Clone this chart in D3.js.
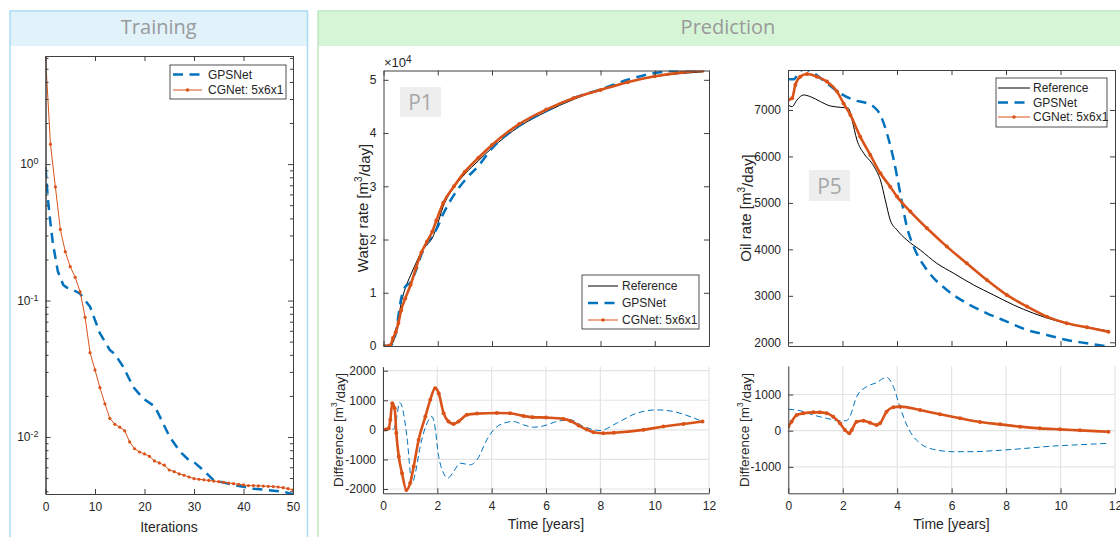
<!DOCTYPE html>
<html>
<head>
<meta charset="utf-8">
<script src="https://cdn.jsdelivr.net/npm/d3@7"></script>
<style>
body { margin: 0; background: #fff; }
svg text { font-family: 'Liberation Sans', Arial, sans-serif; fill: #262626; }
.axis path, .axis line { stroke: #404040; stroke-width: 1; }
.axis text { font-size: 12px; }
.grid { stroke: #e4e4e4; stroke-width: 1.2; }
.panel-title { font-family: 'Open Sans', sans-serif !important; font-size: 20px; fill: #9a9a9a !important; }
.tag { font-family: 'Open Sans', sans-serif !important; font-size: 21px; fill: #a8a8a8 !important; }
.xlab { font-size: 14px; }
.legend text { font-size: 12px; }
</style>
</head>
<body>
<div id="chart"></div>
<script>
// ---- training loss ----
const cgIter = d3.range(0, 51);
const cgLoss = [6.2, 1.40, 0.68, 0.332, 0.228, 0.177, 0.148, 0.116, 0.0753, 0.0415,
  0.031, 0.023, 0.0175, 0.0137, 0.0124, 0.0118, 0.0111, 0.0092, 0.0082, 0.00776,
  0.00751, 0.00722, 0.00667, 0.00645, 0.00621, 0.00573, 0.00557, 0.00536, 0.00524, 0.00509,
  0.00495, 0.0049, 0.00485, 0.0048, 0.00475, 0.0047, 0.00465, 0.0046, 0.00455, 0.0045,
  0.00445, 0.0044, 0.0044, 0.00438, 0.00437, 0.00435, 0.00433, 0.0043, 0.00425, 0.00418, 0.00409];
const gpsIter = [0, 0.5, 1, 1.5, 2.5, 3.6, 4.2, 5.5, 6.9, 9, 11, 13, 14, 15.7, 17.7, 19.7, 22.1, 23.1,
  25.1, 27.2, 28.9, 29.9, 31.9, 33.9, 38, 42, 48, 50];
const gpsLoss = [0.95, 0.55, 0.37, 0.262, 0.163, 0.13, 0.125, 0.12, 0.113, 0.09, 0.0575, 0.0434, 0.0405,
  0.0327, 0.0233, 0.0192, 0.0167, 0.0141, 0.0100, 0.0078, 0.0068, 0.0066, 0.0057, 0.00484,
  0.00445, 0.00418, 0.00398, 0.0038];

// ---- P1 water rate [m3/day] ----
const p1Time = [0, 0.25, 0.35, 0.45, 0.55, 0.65, 0.8, 1.0, 1.2, 1.4, 1.6, 1.8, 1.95, 2.2, 2.6, 3.0,
  3.5, 4.0, 5.0, 6.0, 7.0, 8.0, 9.0, 10.0, 11.0, 11.76];
const p1Ref = [0, 100, 700, 2200, 5000, 8000, 10800, 13300, 15600, 17700, 19000, 20300, 22200, 26200,
  29800, 32300, 34800, 37200, 41200, 44000, 46300, 48200, 49600, 50600, 51200, 51500];
const p1Gps = [0, 100, 720, 2400, 5700, 8900, 11100, 12000, 14200, 17250, 19200, 20750, 21900, 24800,
  28400, 31150, 33850, 37120, 41360, 44150, 46600, 48180, 50000, 51270, 51750, 51750];
const p1Cg = [0, 150, 1500, 2600, 4300, 6700, 8900, 11500, 14700, 17600, 19600, 21500, 23600, 26850,
  30000, 32750, 35360, 37760, 41680, 44410, 46530, 48090, 49550, 50660, 51400, 51700];

// ---- P1 difference ----
const p1CgDiffT = [0, 0.1, 0.21, 0.27, 0.34, 0.43, 0.49, 0.58, 0.7, 0.86, 1.0, 1.13, 1.31, 1.56, 1.74,
  1.92, 2.05, 2.23, 2.41, 2.6, 2.78, 3.09, 3.46, 4.19, 4.68, 5.17, 5.5, 6.0, 6.64, 6.9, 7.2, 7.5, 7.75,
  8.11, 8.5, 9.59, 10.32, 11.06, 11.76];
const p1CgDiff = [0, 10, 56, 340, 900, 730, -110, -900, -1465, -2030, -1800, -1240, -340, 450, 1015,
  1410, 1240, 563, 280, 200, 280, 507, 550, 570, 560, 470, 430, 415, 370, 300, 150, 10, -79,
  -113, -100, 0, 113, 200, 282];
const p1GpsDiffT = [0, 0.39, 0.5, 0.61, 0.7, 0.88, 1.07, 1.19, 1.37, 1.62, 1.8, 1.89, 2.05, 2.23, 2.38,
  2.6, 2.84, 3.21, 3.46, 3.82, 4.07, 4.44, 4.8, 5.17, 5.54, 5.91, 6.4, 6.89, 7.38, 7.99, 8.6, 9.34,
  10.07, 10.69, 11.3, 11.76];
const p1GpsDiff = [0, 23, 400, 930, 790, -225, -1800, -1465, -563, 225, 450, 225, -900, -1465, -1634,
  -1408, -1127, -1183, -1014, -338, 0, 225, 282, 169, 90, 135, 282, 338, 113, -23, 225, 563,
  676, 620, 450, 282];

// ---- P5 oil rate [m3/day] ----
const p5RefT = [0, 0.15, 0.33, 0.57, 0.82, 1.19, 1.55, 1.92, 2.22, 2.35, 2.53, 2.78, 3.08, 3.26, 3.39,
  3.57, 3.75, 4.0, 4.36, 4.85, 5.46, 6.08, 6.81, 7.54, 8.28, 9.01, 9.74, 10.48, 11.21, 11.76];
const p5Ref = [7108, 7072, 7215, 7323, 7287, 7180, 7086, 7057, 7036, 6785, 6354, 6067, 5852, 5673, 5494,
  5063, 4633, 4417, 4202, 3987, 3700, 3485, 3234, 3019, 2803, 2624, 2481, 2373, 2301, 2245];
const p5GpsT = [0, 0.21, 0.39, 0.57, 0.94, 1.43, 1.92, 2.41, 2.9, 3.14, 3.39, 3.63, 3.88, 4.12, 4.36,
  4.61, 5.1, 5.83, 6.56, 7.3, 8.03, 8.77, 9.5, 10.23, 10.97, 11.76];
const p5Gps = [7660, 7660, 7790, 7880, 7790, 7574, 7359, 7215, 7143, 7072, 6892, 6498, 5924, 5207, 4489,
  4059, 3557, 3126, 2839, 2624, 2445, 2265, 2158, 2050, 1978, 1905];
const p5CgT = [0, 0.15, 0.27, 0.45, 0.7, 1.06, 1.43, 1.8, 2.04, 2.29, 2.65, 3.02, 3.39, 3.75, 4.0, 4.49,
  5.1, 5.83, 6.56, 7.3, 8.03, 8.77, 9.5, 10.23, 10.97, 11.76];
const p5Cg = [7215, 7251, 7538, 7717, 7775, 7717, 7610, 7395, 7140, 6892, 6426, 6032, 5637, 5350, 5135,
  4812, 4453, 4059, 3700, 3341, 3019, 2768, 2552, 2409, 2323, 2225];

// ---- P5 difference ----
const p5CgDiffT = [0, 0.12, 0.31, 0.55, 0.92, 1.16, 1.41, 1.65, 1.9, 2.08, 2.24, 2.33, 2.51, 2.76, 3.0,
  3.24, 3.37, 3.61, 3.86, 4.1, 4.84, 5.57, 6.31, 7.04, 7.78, 8.51, 9.24, 9.98, 10.71, 11.76];
const p5CgDiff = [110, 250, 433, 479, 507, 507, 479, 387, 203, 18, -74, 18, 249, 276, 221, 157, 203,
  525, 645, 664, 571, 452, 341, 240, 175, 111, 65, 37, 9, -28];
const p5GpsDiffT = [0, 0.43, 0.92, 1.41, 1.9, 2.14, 2.26, 2.51, 2.88, 3.24, 3.61, 3.86, 4.1, 4.35, 4.84,
  5.45, 6.06, 6.8, 7.53, 8.26, 9.0, 9.73, 10.47, 11.2, 11.76];
const p5GpsDiff = [590, 553, 433, 341, 276, 276, 387, 940, 1217, 1327, 1475, 1217, 664, 157, -350, -535,
  -581, -581, -553, -516, -470, -424, -396, -369, -350];

const timeTicks = [0, 2, 4, 6, 8, 10, 12];
const iterTicks = [0, 10, 20, 30, 40, 50];

const BLUE = "#0072bd", ORANGE = "#d95319";

const svg = d3.select("#chart").append("svg")
    .attr("width", 1120)
    .attr("height", 537);

// panel frames with header bands
function panel(x, w, fill, stroke, title) {
    svg.append("rect").attr("x", x).attr("y", 11).attr("width", w).attr("height", 35).attr("fill", fill);
    svg.append("rect").attr("x", x).attr("y", 11).attr("width", w).attr("height", 540)
        .attr("fill", "none").attr("stroke", stroke).attr("stroke-width", 1.5);
    svg.append("text").attr("class", "panel-title")
        .attr("x", x + w / 2).attr("y", 34).attr("text-anchor", "middle").text(title);
}
panel(10, 297.5, "#e1f2fb", "#a9dbf3", "Training");
panel(318, 820, "#d6f5d7", "#bfe9c1", "Prediction");

let clipN = 0;
function clip(x, y) {
    const id = "clip" + (clipN++);
    svg.append("clipPath").attr("id", id).append("rect")
        .attr("x", x.range()[0]).attr("y", y.range()[1])
        .attr("width", x.range()[1] - x.range()[0])
        .attr("height", y.range()[0] - y.range()[1]);
    return id;
}

function grid(x, y, xt, yt) {
    const g = svg.append("g");
    g.selectAll(".gx").data(xt).join("line").attr("class", "grid")
        .attr("x1", d => x(d)).attr("x2", d => x(d))
        .attr("y1", y.range()[1]).attr("y2", y.range()[0]);
    g.selectAll(".gy").data(yt).join("line").attr("class", "grid")
        .attr("y1", d => y(d)).attr("y2", d => y(d))
        .attr("x1", x.range()[0]).attr("x2", x.range()[1]);
}

function series(x, y, T, V, cid, st) {
    const line = d3.line()
        .x((d, i) => x(T[i]))
        .y(d => y(d))
        .curve(st.linear ? d3.curveLinear : d3.curveMonotoneX);
    const g = svg.append("g").attr("clip-path", `url(#${cid})`);
    g.append("path").datum(V).attr("d", line)
        .attr("fill", "none").attr("stroke", st.color).attr("stroke-width", st.width)
        .attr("stroke-dasharray", st.dash || null).attr("stroke-linejoin", "round");
    if (st.marker) {
        g.selectAll("circle").data(V).join("circle")
            .attr("cx", (d, i) => x(T[i])).attr("cy", d => y(d))
            .attr("r", st.marker).attr("fill", st.color);
    }
}

const plain = d => String(d);

function axes(x, y, o) {
    const g = svg.append("g").attr("class", "axis");
    const L = x.range()[0], R = x.range()[1], B = y.range()[0], T = y.range()[1];
    g.append("g").attr("transform", `translate(0,${B})`)
        .call(d3.axisBottom(x).tickValues(o.xTicks).tickSizeInner(-5).tickSizeOuter(0)
            .tickPadding(8).tickFormat(o.xLabels ? plain : ""));
    const left = g.append("g").attr("transform", `translate(${L},0)`)
        .call(d3.axisLeft(y).tickValues(o.yTicks).tickSizeInner(-5).tickSizeOuter(0)
            .tickPadding(7).tickFormat(o.yFormat || plain));
    if (o.yMinor) {
        g.append("g").attr("transform", `translate(${L},0)`)
            .call(d3.axisLeft(y).tickValues(o.yMinor).tickSizeInner(-3).tickSizeOuter(0).tickFormat(""));
    }
    if (o.box) {
        g.append("g").attr("transform", `translate(0,${T})`)
            .call(d3.axisTop(x).tickValues(o.xTicks).tickSizeInner(-5).tickSizeOuter(0).tickFormat(""));
        g.append("g").attr("transform", `translate(${R},0)`)
            .call(d3.axisRight(y).tickValues(o.yTicks).tickSizeInner(-5).tickSizeOuter(0).tickFormat(""));
        if (o.yMinor) {
            g.append("g").attr("transform", `translate(${R},0)`)
                .call(d3.axisRight(y).tickValues(o.yMinor).tickSizeInner(-3).tickSizeOuter(0).tickFormat(""));
        }
    }
    g.selectAll(".domain").attr("stroke", "#404040");
    return left;
}

function ylabel(xc, yc, pre, size) {
    const t = svg.append("text")
        .attr("transform", `translate(${xc},${yc}) rotate(-90)`)
        .attr("font-size", size + "px")
        .attr("text-anchor", "middle").attr("dominant-baseline", "central");
    t.append("tspan").text(pre + " [m");
    t.append("tspan").attr("dy", "-0.4em").attr("font-size", (size - 5) + "px").text("3");
    t.append("tspan").attr("dy", "0.4em").text("/day]");
}

function xlabel(xc, y, txt) {
    svg.append("text").attr("class", "xlab").attr("x", xc).attr("y", y)
        .attr("text-anchor", "middle").text(txt);
}

function legend(x0, y0, w, h, rows, sx0, sx1, tx, entries) {
    const g = svg.append("g").attr("class", "legend");
    g.append("rect").attr("x", x0).attr("y", y0).attr("width", w).attr("height", h)
        .attr("fill", "#fff").attr("stroke", "#262626").attr("stroke-width", 0.8);
    entries.forEach((e, i) => {
        const yy = rows[i];
        g.append("line").attr("x1", sx0).attr("x2", sx1).attr("y1", yy).attr("y2", yy)
            .attr("stroke", e.color).attr("stroke-width", e.width).attr("stroke-dasharray", e.dash || null);
        if (e.marker) {
            g.append("circle").attr("cx", (sx0 + sx1) / 2).attr("cy", yy).attr("r", 1.8).attr("fill", e.color);
        }
        g.append("text").attr("x", tx).attr("y", yy).attr("dy", "0.35em").text(e.label);
    });
}

function tag(x, y, w, h, txt) {
    svg.append("rect").attr("x", x).attr("y", y).attr("width", w).attr("height", h).attr("fill", "#eeeeee");
    svg.append("text").attr("class", "tag").attr("x", x + w / 2).attr("y", y + h / 2)
        .attr("text-anchor", "middle").attr("dominant-baseline", "central").text(txt);
}

const legRef = { label: "Reference", color: "#000", width: 1 };
const legGps = { label: "GPSNet", color: BLUE, width: 2.5, dash: "10,6.5" };
const legCg = { label: "CGNet: 5x6x1", color: ORANGE, width: 1, marker: true };

// ================= Training =================
{
    const x = d3.scaleLinear().domain([0, 50]).range([45.5, 293]);
    const y = d3.scaleLog().domain([0.00382, 6.2]).range([494, 56]);
    const cid = clip(x, y);
    series(x, y, gpsIter, gpsLoss, cid, { color: BLUE, width: 2.5, dash: "10,6.5", linear: true });
    series(x, y, cgIter, cgLoss, cid, { color: ORANGE, width: 1, marker: 1.6, linear: true });
    const major = [0.01, 0.1, 1];
    const minor = y.ticks().filter(d => !major.some(m => Math.abs(m - d) < 1e-9));
    const left = axes(x, y, { xTicks: iterTicks, yTicks: major, yMinor: minor, box: true, xLabels: true });
    left.selectAll(".tick text").each(function (d) {
        const t = d3.select(this);
        t.text("10");
        t.append("tspan").attr("dy", "-0.45em").attr("font-size", "9px").text(Math.round(Math.log10(d)));
    });
    xlabel(169, 532, "Iterations");
    legend(170, 65, 116, 34, [74.5, 90], 173, 202, 208, [legGps, legCg]);
}

// ================= P1 water rate =================
{
    const x = d3.scaleLinear().domain([0, 12]).range([383.5, 709]);
    const y = d3.scaleLinear().domain([0, 51750]).range([346, 70.5]);
    const cid = clip(x, y);
    tag(400, 87, 41, 30, "P1");
    series(x, y, p1Time, p1Ref, cid, { color: "#000", width: 1 });
    series(x, y, p1Time, p1Gps, cid, { color: BLUE, width: 2.5, dash: "10,6.5" });
    series(x, y, p1Time, p1Cg, cid, { color: ORANGE, width: 2.6, marker: 2 });
    axes(x, y, { xTicks: timeTicks, yTicks: [0, 10000, 20000, 30000, 40000, 50000], box: true,
        yFormat: d => String(d / 10000) });
    const e = svg.append("text").attr("x", 384).attr("y", 67).attr("font-size", "13px");
    e.append("tspan").text("\u00d710");
    e.append("tspan").attr("dy", "-0.45em").attr("font-size", "10px").text("4");
    ylabel(361.5, 208, "Water rate", 15);
    legend(582, 275, 117, 54, [286, 303, 320], 588, 618, 622, [legRef, legGps, legCg]);
}

// ================= P1 difference =================
{
    const x = d3.scaleLinear().domain([0, 12]).range([383, 709]);
    const y = d3.scaleLinear().domain([-2145, 2135]).range([493.3, 366.7]);
    const cid = clip(x, y);
    grid(x, y, timeTicks, [-2000, -1000, 0, 1000, 2000]);
    series(x, y, p1GpsDiffT, p1GpsDiff, cid, { color: BLUE, width: 1, dash: "6,3.5" });
    series(x, y, p1CgDiffT, p1CgDiff, cid, { color: ORANGE, width: 2.6, marker: 2 });
    axes(x, y, { xTicks: timeTicks, yTicks: [-2000, -1000, 0, 1000, 2000], xLabels: true });
    ylabel(337.5, 430, "Difference", 13.5);
    xlabel(546, 529, "Time [years]");
}

// ================= P5 oil rate =================
{
    const x = d3.scaleLinear().domain([0, 12]).range([788, 1115]);
    const y = d3.scaleLinear().domain([1920, 7860]).range([346, 70]);
    const cid = clip(x, y);
    tag(809, 170, 41, 31, "P5");
    series(x, y, p5RefT, p5Ref, cid, { color: "#000", width: 1 });
    series(x, y, p5GpsT, p5Gps, cid, { color: BLUE, width: 2.5, dash: "10,6.5" });
    series(x, y, p5CgT, p5Cg, cid, { color: ORANGE, width: 2.6, marker: 2 });
    axes(x, y, { xTicks: timeTicks, yTicks: [2000, 3000, 4000, 5000, 6000, 7000], box: true });
    ylabel(745, 208, "Oil rate", 15);
    legend(996, 78, 111, 49, [88, 102.5, 117], 998, 1030, 1033, [legRef, legGps, legCg]);
}

// ================= P5 difference =================
{
    const x = d3.scaleLinear().domain([0, 12]).range([788.3, 1115]);
    const y = d3.scaleLinear().domain([-1730, 1787]).range([493.3, 366]);
    const cid = clip(x, y);
    grid(x, y, timeTicks, [-1000, 0, 1000]);
    series(x, y, p5GpsDiffT, p5GpsDiff, cid, { color: BLUE, width: 1, dash: "6,3.5" });
    series(x, y, p5CgDiffT, p5CgDiff, cid, { color: ORANGE, width: 2.6, marker: 2 });
    axes(x, y, { xTicks: timeTicks, yTicks: [-1000, 0, 1000], xLabels: true });
    ylabel(743.5, 430, "Difference", 13.5);
    xlabel(951.5, 529, "Time [years]");
}
</script>
</body>
</html>
